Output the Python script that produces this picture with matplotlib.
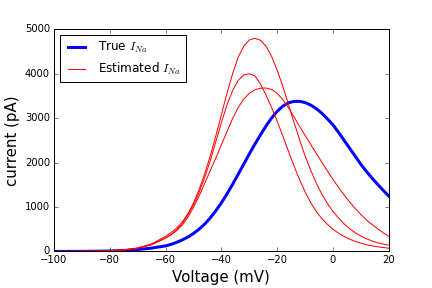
import numpy as np
import matplotlib
matplotlib.use("Agg")
import matplotlib.pyplot as plt

plt.style.use("classic")

# membrane voltage (mV)
voltage = [-100, -95, -90, -85, -80, -75, -70, -65] + list(range(-60, 21, 2))

# true sodium current (pA)
true_ina = [0, 1, 2, 5, 10, 20, 42, 75,
            125, 160, 205, 260, 325, 405, 500, 615, 755, 915,
            1095, 1295, 1510, 1735, 1965, 2195, 2415, 2625, 2825, 3005,
            3155, 3270, 3345, 3378, 3380, 3352, 3297, 3216, 3112, 2985,
            2850, 2680, 2500, 2320, 2140, 1960, 1800, 1650, 1510, 1375, 1245]

# estimated sodium currents (pA)
est_ina_1 = [0, 1, 3, 7, 16, 35, 80, 170,
             340, 425, 530, 665, 850, 1090, 1390, 1745, 2150, 2600,
             3080, 3560, 4000, 4370, 4620, 4760, 4800, 4755, 4620, 4390,
             4080, 3720, 3320, 2910, 2520, 2150, 1830, 1540, 1290, 1080,
             900, 750, 620, 510, 420, 345, 285, 235, 195, 165, 140]
est_ina_2 = [0, 1, 3, 6, 15, 32, 72, 155,
             305, 385, 490, 635, 820, 1050, 1330, 1660, 2040, 2470,
             2900, 3300, 3620, 3850, 3970, 4000, 3955, 3770, 3520, 3240,
             2930, 2600, 2260, 1930, 1620, 1340, 1100, 900, 740, 610,
             500, 410, 335, 275, 225, 185, 150, 125, 105, 88, 72]
est_ina_3 = [0, 1, 3, 6, 14, 31, 70, 150,
             300, 375, 470, 595, 770, 990, 1250, 1530, 1820, 2100,
             2400, 2700, 2990, 3240, 3430, 3560, 3640, 3675, 3680, 3645,
             3560, 3420, 3240, 3030, 2820, 2610, 2410, 2210, 2010, 1810,
             1620, 1440, 1270, 1110, 965, 830, 710, 605, 510, 420, 340]

fig = plt.figure(figsize=(6, 4), dpi=72, facecolor="white")
ax = fig.add_subplot(111)
fig.subplots_adjust(left=0.125, right=0.9, bottom=0.127, top=0.898)

ax.plot(voltage, true_ina, color="b", linewidth=3, label="True $I_{Na}$")
ax.plot(voltage, est_ina_1, color="r", linewidth=1, label="Estimated $I_{Na}$")
ax.plot(voltage, est_ina_2, color="r", linewidth=1)
ax.plot(voltage, est_ina_3, color="r", linewidth=1)

ax.set_xlim(-100, 20)
ax.set_ylim(0, 5000)
ax.set_xticks(range(-100, 21, 20))
ax.set_yticks(range(0, 5001, 1000))
ax.tick_params(labelsize=10)
ax.set_xlabel("Voltage (mV)", fontsize=15)
ax.set_ylabel("current (pA)", fontsize=15)
ax.legend(loc="upper left", fontsize=12)

fig.savefig("out.png", dpi=72, facecolor="white")
